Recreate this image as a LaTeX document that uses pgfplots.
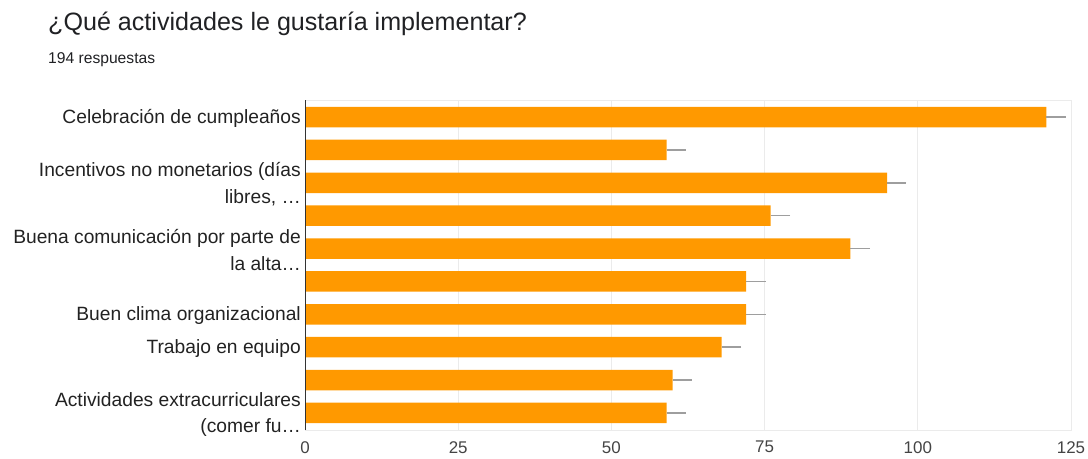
\documentclass[border=0pt]{standalone}
\usepackage{pgfplots}
\pgfplotsset{compat=1.18}
\usepackage{fontspec}
\setmainfont{Liberation Sans}
\definecolor{barorange}{HTML}{FF9900}
\definecolor{titlecol}{HTML}{202124}
\definecolor{labelcol}{HTML}{222222}
\definecolor{tickcol}{HTML}{444444}
\definecolor{gridcol}{HTML}{EBEBEB}
\definecolor{errcol}{HTML}{9E9E9E}
\definecolor{axiscol}{HTML}{333333}

\begin{document}
\begin{tikzpicture}
\useasboundingbox (0,0) rectangle (1088bp,-459bp);
\node[anchor=base west, inner sep=0, text=titlecol, font=\fontsize{25.2}{30}\selectfont] at (48bp,-30bp) {¿Qué actividades le gustaría implementar?};
\node[anchor=base west, inner sep=0, text=titlecol, font=\fontsize{15.7}{19}\selectfont] at (48bp,-63bp) {194 respuestas};
\begin{axis}[
  at={(305bp,-430bp)}, anchor=south west,
  scale only axis, width=766bp, height=330bp,
  xbar, bar width=20.5bp,
  xmin=0, xmax=125, ymin=0.48, ymax=10.52,
  y dir=reverse,
  xtick={0,25,50,75,100,125},
  ytick={1,2,3,4,5,6,7,8,9,10},
  yticklabels={Celebración de cumpleaños, {}, {Incentivos no monetarios (días\\libres, …}, {}, {Buena comunicación por parte de\\la alta…}, {}, Buen clima organizacional, Trabajo en equipo, {}, {Actividades extracurriculares\\(comer fu…}},
  major tick length=0,
  xmajorgrids, grid style={color=gridcol, line width=1bp},
  axis line style={draw=gridcol, line width=1bp},
  /pgf/number format/assume math mode=true,
  xticklabel style={inner sep=0, yshift=-11bp, text=tickcol, font=\fontsize{17}{20}\selectfont},
  yticklabel style={inner sep=0, xshift=-4bp, yshift=-1.5bp, align=right, text=labelcol, font=\fontsize{19.3}{26.5}\selectfont},
]
\addplot[xbar, fill=barorange, draw=none,
  error bars/.cd, x dir=plus, x explicit, error mark=none,
  error bar style={color=errcol, line width=1.5bp}]
  coordinates {
  (121,1) +- (3.15,0)
  (59,2) +- (3.15,0)
  (95,3) +- (3.15,0)
  (76,4) +- (3.15,0)
  (89,5) +- (3.15,0)
  (72,6) +- (3.15,0)
  (72,7) +- (3.15,0)
  (68,8) +- (3.15,0)
  (60,9) +- (3.15,0)
  (59,10) +- (3.15,0)
  };
\draw[color=axiscol, line width=1.5bp] (axis cs:0,0.48) -- (axis cs:0,10.52);
\end{axis}
\end{tikzpicture}
\end{document}
